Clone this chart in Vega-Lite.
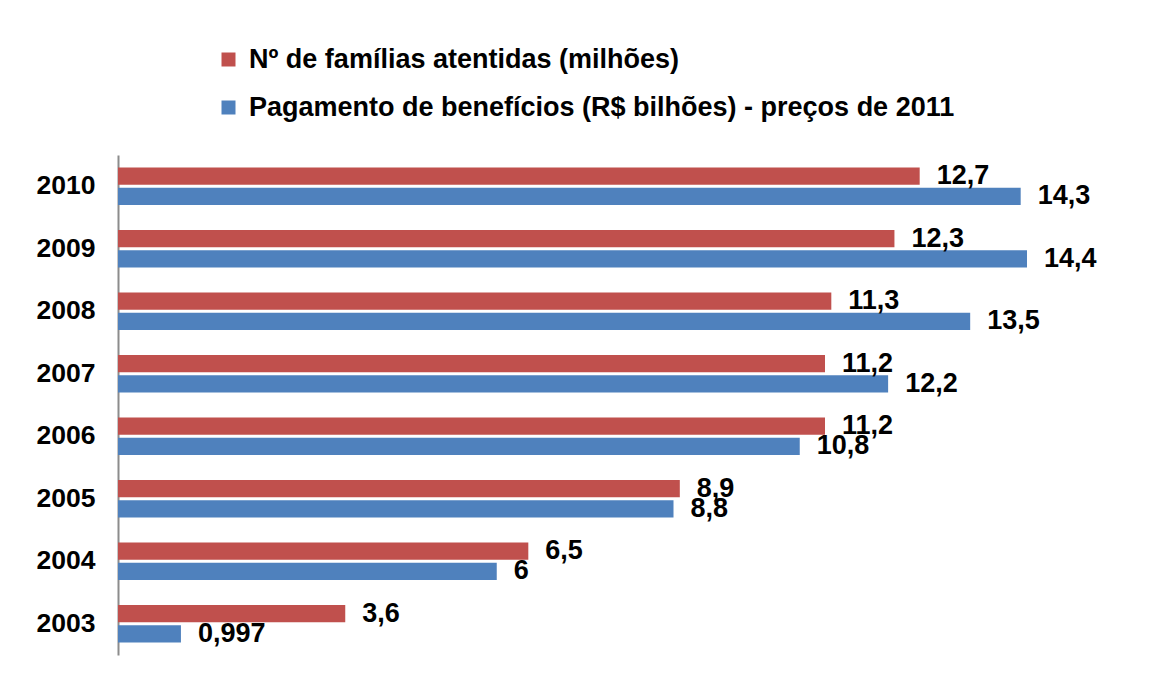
{
  "$schema": "https://vega.github.io/schema/vega-lite/v6.json",
  "width": 1010,
  "height": 500,
  "autosize": {"type": "none"},
  "padding": {"left": 118, "top": 155, "right": 24, "bottom": 23},
  "background": "white",
  "config": {
    "view": {"stroke": null},
    "font": "Liberation Sans",
    "locale": {"number": {"decimal": ",", "thousands": ".", "grouping": [3], "currency": ["R$", ""]}}
  },
  "data": {
    "values": [
      {"ano": "2010", "serie": "Nº de famílias atentidas (milhões)", "valor": 12.7},
      {"ano": "2010", "serie": "Pagamento de benefícios (R$ bilhões) - preços de 2011", "valor": 14.3},
      {"ano": "2009", "serie": "Nº de famílias atentidas (milhões)", "valor": 12.3},
      {"ano": "2009", "serie": "Pagamento de benefícios (R$ bilhões) - preços de 2011", "valor": 14.4},
      {"ano": "2008", "serie": "Nº de famílias atentidas (milhões)", "valor": 11.3},
      {"ano": "2008", "serie": "Pagamento de benefícios (R$ bilhões) - preços de 2011", "valor": 13.5},
      {"ano": "2007", "serie": "Nº de famílias atentidas (milhões)", "valor": 11.2},
      {"ano": "2007", "serie": "Pagamento de benefícios (R$ bilhões) - preços de 2011", "valor": 12.2},
      {"ano": "2006", "serie": "Nº de famílias atentidas (milhões)", "valor": 11.2},
      {"ano": "2006", "serie": "Pagamento de benefícios (R$ bilhões) - preços de 2011", "valor": 10.8},
      {"ano": "2005", "serie": "Nº de famílias atentidas (milhões)", "valor": 8.9},
      {"ano": "2005", "serie": "Pagamento de benefícios (R$ bilhões) - preços de 2011", "valor": 8.8},
      {"ano": "2004", "serie": "Nº de famílias atentidas (milhões)", "valor": 6.5},
      {"ano": "2004", "serie": "Pagamento de benefícios (R$ bilhões) - preços de 2011", "valor": 6},
      {"ano": "2003", "serie": "Nº de famílias atentidas (milhões)", "valor": 3.6},
      {"ano": "2003", "serie": "Pagamento de benefícios (R$ bilhões) - preços de 2011", "valor": 0.997}
    ]
  },
  "encoding": {
    "y": {
      "field": "ano", "type": "nominal", "sort": "descending",
      "scale": {"paddingInner": 0.4, "paddingOuter": 0.2},
      "axis": {"title": null, "ticks": false, "labelPadding": 23, "labelFontSize": 26.5, "labelFontWeight": "bold", "labelColor": "#000000", "domainColor": "#8c8c8c", "domainWidth": 2}
    },
    "yOffset": {
      "field": "serie", "type": "nominal",
      "scale": {"domain": ["Nº de famílias atentidas (milhões)", "Pagamento de benefícios (R$ bilhões) - preços de 2011"], "paddingInner": 0.15, "paddingOuter": 0}
    },
    "x": {
      "field": "valor", "type": "quantitative",
      "scale": {"domain": [0, 16], "nice": false},
      "axis": null
    }
  },
  "layer": [
    {
      "mark": {"type": "bar"},
      "encoding": {
        "color": {
          "field": "serie", "type": "nominal",
          "scale": {"domain": ["Nº de famílias atentidas (milhões)", "Pagamento de benefícios (R$ bilhões) - preços de 2011"], "range": ["#C0504D", "#4F81BD"]},
          "legend": {
            "title": null, "orient": "none", "legendX": 97, "legendY": -109,
            "symbolType": "square", "symbolSize": 196, "symbolStrokeWidth": 0,
            "labelFontSize": 27, "labelFontWeight": "bold", "labelColor": "#000000",
            "labelLimit": 900, "rowPadding": 20, "labelOffset": 7
          }
        }
      }
    },
    {
      "mark": {"type": "text", "align": "left", "dx": 17, "fontSize": 27, "fontWeight": "bold", "color": "#000000"},
      "encoding": {
        "text": {"field": "valor", "type": "quantitative", "format": "~g"},
        "yOffset": {
          "field": "serie", "type": "nominal"
        }
      }
    }
  ]
}
